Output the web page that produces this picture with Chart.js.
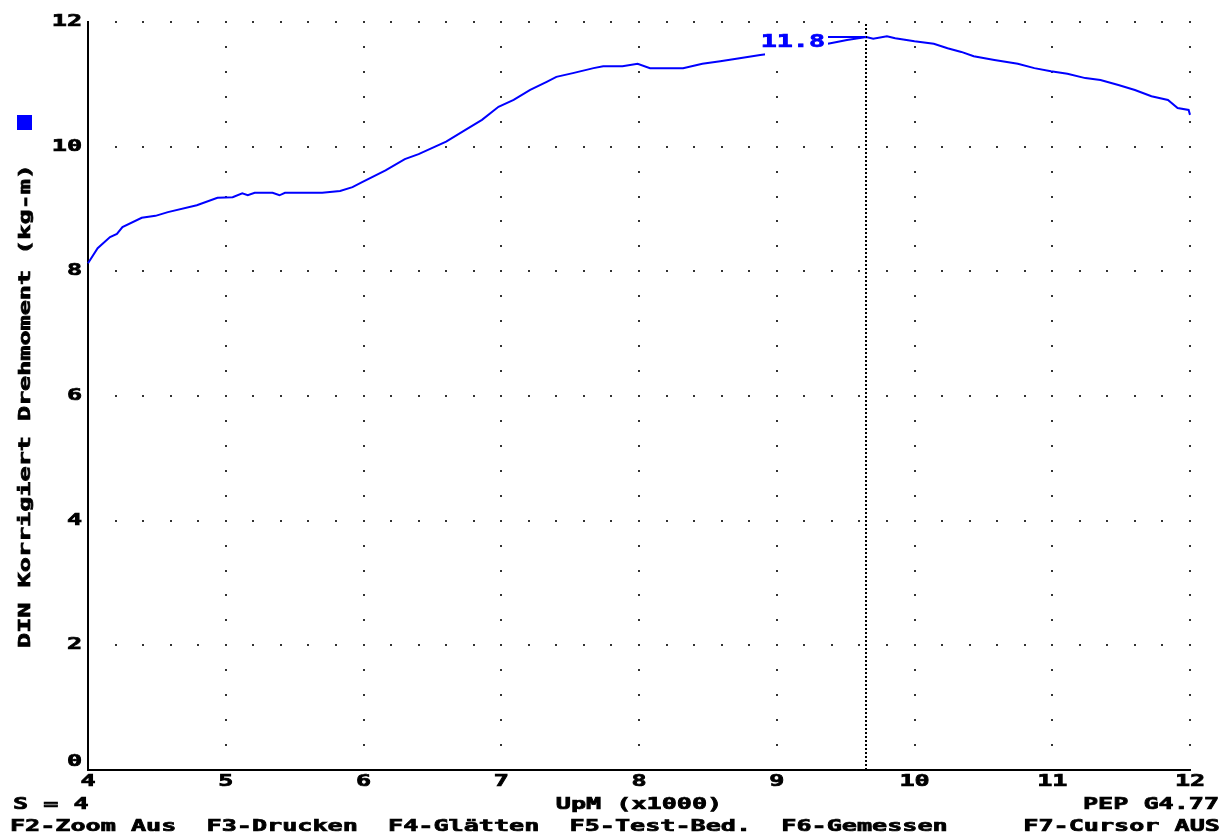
<!DOCTYPE html>
<html>
<head>
<meta charset="utf-8">
<script src="https://cdn.jsdelivr.net/npm/chart.js@4/dist/chart.umd.min.js"></script>
<style>
    html, body { margin: 0; padding: 0; background: #fff; }
</style>
</head>
<body>
<canvas id="dynoChart" width="1225" height="835"></canvas>
<script>
// Drehzahl (x1000 UpM) und Drehmoment (kg-m)
const rpm = [4.00, 4.07, 4.16, 4.21, 4.25, 4.39, 4.49, 4.58, 4.79, 4.94,
    5.05, 5.12, 5.16, 5.21, 5.34, 5.39, 5.43, 5.70, 5.83, 5.92,
    5.99, 6.16, 6.30, 6.40, 6.52, 6.60, 6.74, 6.86, 6.98, 7.09,
    7.21, 7.33, 7.40, 7.52, 7.67, 7.74, 7.88, 7.99, 8.08, 8.17,
    8.32, 8.46, 8.59, 8.73, 8.88, 8.95, 9.39, 9.51, 9.65, 9.70,
    9.80, 9.86, 10.00, 10.14, 10.24, 10.34, 10.43, 10.58, 10.75, 10.87,
    10.99, 11.11, 11.24, 11.35, 11.48, 11.60, 11.72, 11.84, 11.91, 11.99, 12.00];
const torque = [8.13, 8.37, 8.55, 8.60, 8.71, 8.86, 8.89, 8.95, 9.06, 9.18,
    9.19, 9.25, 9.22, 9.26, 9.26, 9.22, 9.26, 9.26, 9.29, 9.35,
    9.43, 9.62, 9.80, 9.88, 10.00, 10.08, 10.27, 10.43, 10.64, 10.75,
    10.91, 11.04, 11.12, 11.18, 11.26, 11.29, 11.29, 11.33, 11.26, 11.26,
    11.26, 11.33, 11.37, 11.42, 11.47, 11.49, 11.66, 11.71, 11.76, 11.73,
    11.77, 11.74, 11.69, 11.65, 11.58, 11.52, 11.45, 11.39, 11.33, 11.26,
    11.21, 11.17, 11.10, 11.07, 10.99, 10.91, 10.81, 10.75, 10.62, 10.59, 10.51];

const cursorRpm = 9.65;
const cursorTorque = 11.76;

const yTitle = 'DIN Korrigiert Drehmoment (kg-m)';
const xTitle = 'UpM (x1000)';
const statusLeft = 'S = 4';
const statusRight = 'PEP G4.77';
const keyRow = 'F2-Zoom Aus  F3-Drucken  F4-Glätten  F5-Test-Bed.  F6-Gemessen     F7-Cursor AUS';

const SX = 1.57; // breite DOS-Schrift nachahmen

function dosText(ctx, txt, x, y, align, color, rot, size) {
    ctx.save();
    ctx.font = 'bold ' + (size || 16) + 'px "DejaVu Sans Mono"';
    ctx.fillStyle = color || '#000';
    ctx.strokeStyle = color || '#000';
    ctx.lineWidth = 0.7;
    ctx.textBaseline = 'middle';
    ctx.textAlign = 'left';
    ctx.translate(x, y);
    if (rot) ctx.rotate(rot);
    ctx.scale(SX, 1);
    const w = ctx.measureText(txt).width;
    let dx = 0;
    if (align === 'center') dx = -w / 2;
    else if (align === 'right') dx = -w;
    ctx.fillText(txt, dx, 0);
    ctx.strokeText(txt, dx, 0);
    ctx.restore();
    return w * SX;
}

// Punktraster
const dotGrid = {
    id: 'dotGrid',
    beforeDatasetsDraw(chart) {
        const ctx = chart.ctx;
        const xs = chart.scales.x, ys = chart.scales.y;
        ctx.save();
        ctx.fillStyle = '#333';
        ys.ticks.forEach(t => {
            if (t.value === 0) return;
            const py = ys.getPixelForValue(t.value);
            for (let i = 1; i <= 40; i++) {
                const px = xs.getPixelForValue(4 + i * 0.2);
                ctx.fillRect(Math.round(px) - 1, Math.round(py) - 1, 2, 2);
            }
        });
        xs.ticks.forEach(t => {
            if (t.value === 4) return;
            const px = xs.getPixelForValue(t.value);
            for (let j = 1; j < 30; j++) {
                const py = ys.getPixelForValue(j * 0.4);
                ctx.fillRect(Math.round(px) - 1, Math.round(py) - 1, 2, 2);
            }
        });
        ctx.restore();
    }
};

// Beschriftung, Cursor und Statuszeilen
const dosLabels = {
    id: 'dosLabels',
    afterDraw(chart) {
        const ctx = chart.ctx;
        const xs = chart.scales.x, ys = chart.scales.y;
        const area = chart.chartArea;

        ys.ticks.forEach(t => {
            let py = ys.getPixelForValue(t.value);
            if (t.value === 0) py -= 8;
            dosText(ctx, String(t.value), 82, py, 'right');
        });
        xs.ticks.forEach(t => {
            dosText(ctx, String(t.value), xs.getPixelForValue(t.value), 782, 'center');
        });

        // Cursor
        const cx = Math.round(xs.getPixelForValue(cursorRpm));
        ctx.save();
        ctx.strokeStyle = '#000';
        ctx.lineWidth = 2;
        ctx.setLineDash([2, 2]);
        ctx.beginPath();
        ctx.moveTo(cx, area.top + 2);
        ctx.lineTo(cx, area.bottom);
        ctx.stroke();
        ctx.restore();

        // Wertanzeige
        const cy = ys.getPixelForValue(cursorTorque);
        ctx.save();
        ctx.fillStyle = '#fff';
        ctx.fillRect(765, cy - 6, 63, 25);
        ctx.strokeStyle = '#0000ff';
        ctx.lineWidth = 2;
        ctx.beginPath();
        ctx.moveTo(828, cy);
        ctx.lineTo(cx, cy);
        ctx.stroke();
        ctx.restore();
        dosText(ctx, cursorTorque.toFixed(1), 825, cy + 6, 'right', '#0000ff', 0, 17);

        // Legendenquadrat
        ctx.fillStyle = '#0000ff';
        ctx.fillRect(17, 115, 15, 15);

        dosText(ctx, yTitle, 26, 406, 'center', '#000', -Math.PI / 2);
        dosText(ctx, statusLeft, 13, 805, 'left');
        dosText(ctx, xTitle, (area.left + area.right) / 2, 805, 'center');
        dosText(ctx, statusRight, 1219, 805, 'right');
        dosText(ctx, keyRow, 10, 827, 'left');
    }
};

const ctx = document.getElementById('dynoChart').getContext('2d');
const dynoChart = new Chart(ctx, {
    type: 'line',
    data: {
        datasets: [{
            label: 'Drehmoment',
            data: rpm.map((r, i) => ({x: r, y: torque[i]})),
            borderColor: '#0000ff',
            borderWidth: 2,
            pointRadius: 0,
            tension: 0,
            fill: false,
            clip: 4
        }]
    },
    options: {
        responsive: false,
        animation: false,
        layout: {
            padding: {left: 88, top: 22, right: 35, bottom: 65}
        },
        plugins: {
            legend: {display: false},
            tooltip: {enabled: false}
        },
        scales: {
            x: {
                type: 'linear',
                min: 4,
                max: 12,
                ticks: {display: false, stepSize: 1},
                grid: {display: false},
                border: {display: true, color: '#000', width: 2},
                afterFit(scale) { scale.height = 0; }
            },
            y: {
                min: 0,
                max: 12,
                ticks: {display: false, stepSize: 2},
                grid: {display: false},
                border: {display: true, color: '#000', width: 2},
                afterFit(scale) { scale.width = 0; }
            }
        }
    },
    plugins: [dotGrid, dosLabels]
});
</script>
</body>
</html>
